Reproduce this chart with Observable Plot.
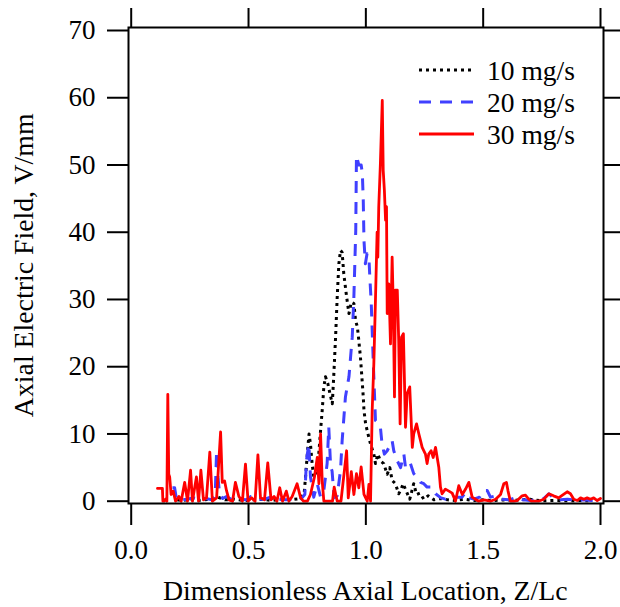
<!DOCTYPE html>
<html>
<head>
<meta charset="utf-8">
<script src="https://cdn.jsdelivr.net/npm/d3@7"></script>
<script src="https://cdn.jsdelivr.net/npm/@observablehq/plot@0.6"></script>
<style>
  html, body { margin: 0; padding: 0; background: white; }
  #chart { width: 620px; height: 607px; }
</style>
</head>
<body>
<div id="chart"></div>
<script>
// ---- data ----
const xTicks = [0, 0.5, 1, 1.5, 2];
const yTicks = [0, 10, 20, 30, 40, 50, 60, 70];
const seriesLabels = ["10 mg/s", "20 mg/s", "30 mg/s"];
const xLabel = "Dimensionless Axial Location, Z/Lc";
const yLabel = "Axial Electric Field, V/mm";

// 10 mg/s (black dotted)
const z10 = [0.195,0.22,0.25,0.28,0.31,0.34,0.37,0.40,0.44,0.48,
  0.52,0.56,0.60,0.64,0.68,0.72,0.737,0.744,0.754,0.758,
  0.764,0.771,0.778,0.793,0.807,0.814,0.821,0.828,0.838,0.847,
  0.857,0.863,0.871,0.878,0.885,0.892,0.899,0.906,0.918,0.928,
  0.938,0.949,0.956,0.964,0.970,0.977,0.984,0.989,0.992,0.999,
  1.009,1.020,1.034,1.041,1.051,1.062,1.076,1.091,1.102,1.112,
  1.126,1.140,1.148,1.159,1.172,1.187,1.204,1.216,1.230,1.247,
  1.265,1.290,1.320,1.350,1.380,1.420,1.460,1.500,1.540,1.580,
  1.620,1.660,1.700,1.714,1.750,1.800,1.860,1.920,1.960];
const e10 = [0.2,0.1,0.3,0.1,0.2,0.3,0.6,0.2,0.3,0.1,
  0.2,0.3,0.1,0.3,0.2,0.4,1.1,4.1,8.5,10,
  8.5,5.6,3.6,4.1,10.5,13.5,17,18.5,17.5,16,
  14.5,18.5,24.4,30.4,35.3,37.3,37.0,33.8,30.4,27.9,
  29.6,29.4,26.9,25.9,23.9,21.4,18,15.5,13.5,11.5,
  10,8.5,7,5.6,7,6,5.6,4.0,5,3.1,
  2.6,1.1,1.6,2.6,1.5,0.3,2.6,1.0,1.2,0.3,
  0.8,0.2,0.4,0.2,0.1,0.3,0.1,0.2,0.1,0.2,
  0.1,0.2,0.3,0.2,0.05,0.1,0.05,0.1,0.05];

// 20 mg/s (blue dashed)
const z20 = [0.176,0.185,0.192,0.205,0.220,0.240,0.262,0.290,0.320,0.345,
  0.358,0.364,0.370,0.377,0.390,0.406,0.430,0.460,0.490,0.510,
  0.540,0.570,0.600,0.630,0.660,0.690,0.720,0.740,0.747,0.757,
  0.764,0.778,0.793,0.807,0.821,0.835,0.842,0.850,0.856,0.865,
  0.878,0.892,0.899,0.913,0.928,0.942,0.949,0.953,0.957,0.960,
  0.970,0.980,0.985,0.989,0.992,0.998,1.005,1.013,1.017,1.023,
  1.027,1.032,1.034,1.041,1.055,1.062,1.069,1.079,1.091,1.112,
  1.119,1.134,1.148,1.162,1.169,1.183,1.190,1.204,1.219,1.233,
  1.247,1.261,1.280,1.297,1.320,1.339,1.354,1.380,1.410,1.425,
  1.440,1.460,1.485,1.503,1.517,1.531,1.553,1.580,1.610,1.645,
  1.670,1.700,1.730,1.758,1.780,1.800,1.830,1.860,1.900,1.930,
  1.960,2.000];
const e20 = [2.0,2.0,0.5,0.7,0.2,0.3,0.5,0.3,0.4,0.2,
  1.0,7.5,3.5,1.0,0.4,0.7,0.2,0.3,0.2,0.7,
  0.3,0.3,0.7,0.3,0.2,0.3,0.2,1.0,6.1,8.5,
  3.6,0.6,2.6,0.6,1.6,5.6,11,5.1,4.5,0.5,
  0.8,4.6,9,15.5,18.5,24.4,30.4,35.3,40.3,51.4,
  50,50,48.8,44.7,38.8,35.3,36.8,36.3,33.3,29.4,
  25.4,20.4,18.5,12,11.5,11,8.5,7.0,7.5,9,
  7.5,6,5,7,5.0,5,5.6,4.1,3.5,2.8,
  2.6,2.1,2.1,1.1,0.5,0.3,0.8,0.6,0.6,1.3,
  0.5,0.3,0.6,1.6,1.6,0.6,0.8,0.3,0.2,0.6,
  0.2,0.1,0.2,0.4,1.1,0.5,0.2,0.3,0.1,0.2,
  0.1,0.3];

// 30 mg/s (red solid)
const z30 = [0.112,0.133,0.135,0.140,0.146,0.152,0.156,0.160,0.164,0.170,
  0.179,0.189,0.203,0.213,0.228,0.240,0.253,0.261,0.278,0.287,
  0.297,0.308,0.321,0.335,0.346,0.364,0.381,0.388,0.398,0.406,
  0.417,0.432,0.444,0.459,0.474,0.487,0.498,0.513,0.528,0.540,
  0.551,0.568,0.582,0.596,0.609,0.621,0.633,0.645,0.661,0.672,
  0.686,0.707,0.722,0.734,0.751,0.764,0.781,0.793,0.800,0.807,
  0.814,0.821,0.840,0.858,0.865,0.878,0.894,0.918,0.925,0.938,
  0.949,0.960,0.970,0.980,0.992,1.006,1.013,1.020,1.027,1.034,
  1.041,1.048,1.051,1.055,1.062,1.070,1.074,1.079,1.084,1.088,
  1.091,1.098,1.105,1.112,1.117,1.122,1.126,1.134,1.140,1.146,
  1.152,1.160,1.169,1.176,1.187,1.198,1.204,1.216,1.226,1.233,
  1.240,1.254,1.261,1.268,1.278,1.287,1.297,1.311,1.318,1.325,
  1.339,1.354,1.368,1.382,1.396,1.411,1.425,1.439,1.453,1.467,
  1.481,1.503,1.531,1.553,1.574,1.588,1.599,1.606,1.616,1.630,
  1.645,1.666,1.680,1.694,1.705,1.736,1.758,1.780,1.800,1.822,
  1.838,1.858,1.872,1.886,1.901,1.915,1.929,1.943,1.957,1.971,
  1.986,2.000];
const e30 = [1.9,1.9,0,0,0.3,0,15.9,4,3.6,1.0,
  1.5,0,0.7,0,2.8,0,4.6,0,3.6,0,
  4.6,0.2,0.5,7.3,0,0.5,10.3,2.8,3.0,1.6,
  0.2,0,2.8,0.7,0,5.5,0,0.5,0,6.9,
  0.5,0.2,5.7,0.2,0.7,0,2.0,0,1.5,0,
  0.7,2.6,0.5,0,0,1.0,3.6,6.5,2.6,10.0,
  3.0,0,0,0,2.1,0,0,7.5,0.5,4.4,
  1.0,4.1,2.0,5.1,1.0,0,2.5,0,13.5,20.4,
  30,40,36.3,43.8,50.2,59.6,49.2,46.2,41.8,43.8,
  27.9,32.3,23.4,36.3,28.9,15.5,31.4,31.4,23.9,11.5,
  24.4,24.9,11,16,17,8,10,11.5,10,9,
  8,7,5.6,7,7.5,6.5,8,5,2.1,1.1,
  1.8,1.5,1.2,0,2.3,1.0,1.8,2.8,0.6,0.3,
  0,0.2,0,0.3,1.0,2.6,2.8,1.5,0,0,
  0.1,0.8,0.9,0.3,0,0,0.3,1.1,0.8,0.5,
  0.9,1.4,1.1,0.3,0.1,0.5,0.3,0.5,0.3,0.5,
  0.1,0.4];

// ---- build tables ----
const toRows = (zs, es) => zs.map((z, i) => ({z, e: es[i]}));
const d10 = toRows(z10, e10);
const d20 = toRows(z20, e20);
const d30 = toRows(z30, e30);

const styles = [
  {stroke: "black", dash: "3,4", width: 3},
  {stroke: "#4040ff", dash: "12,9", width: 3},
  {stroke: "#ff0000", dash: null, width: 2.8}
];
const FONT = "Liberation Serif";

const chart = Plot.plot({
  width: 620,
  height: 607,
  marginLeft: 130.7,
  marginRight: 20,
  marginTop: 30,
  marginBottom: 106.3,
  style: {fontFamily: FONT, background: "white", color: "black"},
  x: {domain: [0, 2]},
  y: {domain: [0, 70]},
  marks: [
    Plot.line(d10, {x: "z", y: "e", stroke: styles[0].stroke, strokeWidth: styles[0].width, strokeDasharray: styles[0].dash, strokeLinecap: "butt"}),
    Plot.line(d20, {x: "z", y: "e", stroke: styles[1].stroke, strokeWidth: styles[1].width, strokeDasharray: styles[1].dash, strokeLinecap: "butt"}),
    Plot.line(d30, {x: "z", y: "e", stroke: styles[2].stroke, strokeWidth: styles[2].width}),
    Plot.frame({stroke: "black", strokeWidth: 2, insetLeft: -2.7, insetRight: -3, insetTop: -3, insetBottom: -2.3}),
    Plot.axisY(yTicks, {anchor: "left", tickSize: 21, dx: -2.7, tickPadding: 12, strokeWidth: 2, label: null, fontSize: 27, fontFamily: FONT}),
    Plot.axisY(yTicks, {anchor: "right", tickSize: 17, dx: 3, tickFormat: () => "", strokeWidth: 2, label: null}),
    Plot.axisX(xTicks, {anchor: "bottom", tickSize: 22, dy: 2.3, tickPadding: 14, tickFormat: d => d.toFixed(1), strokeWidth: 2, label: null, fontSize: 27, fontFamily: FONT}),
    Plot.axisX(xTicks, {anchor: "top", tickSize: 20, dy: -3, tickFormat: () => "", strokeWidth: 2, label: null})
  ]
});
document.getElementById("chart").appendChild(chart);

// axis titles and legend
const svg = d3.select(chart);
svg.append("text")
  .attr("x", 365.3).attr("y", 600)
  .attr("text-anchor", "middle")
  .style("font-family", FONT).style("font-size", "27.8px").attr("fill", "black")
  .text(xLabel);
svg.append("text")
  .attr("transform", "translate(33,265.3) rotate(-90)")
  .attr("text-anchor", "middle")
  .style("font-family", FONT).style("font-size", "27.8px").attr("fill", "black")
  .text(yLabel);

const legend = svg.append("g");
seriesLabels.forEach((lab, i) => {
  const yy = 70 + i * 32;
  legend.append("line")
    .attr("x1", 419).attr("x2", 474).attr("y1", yy).attr("y2", yy)
    .attr("stroke", styles[i].stroke).attr("stroke-width", styles[i].width)
    .attr("stroke-dasharray", styles[i].dash)
    .attr("stroke-linecap", "butt");
  legend.append("text")
    .attr("x", 487).attr("y", yy).attr("dy", "0.35em")
    .attr("text-anchor", "start")
    .style("font-family", FONT).style("font-size", "27.5px").attr("fill", "black")
    .text(lab);
});
</script>
</body>
</html>
